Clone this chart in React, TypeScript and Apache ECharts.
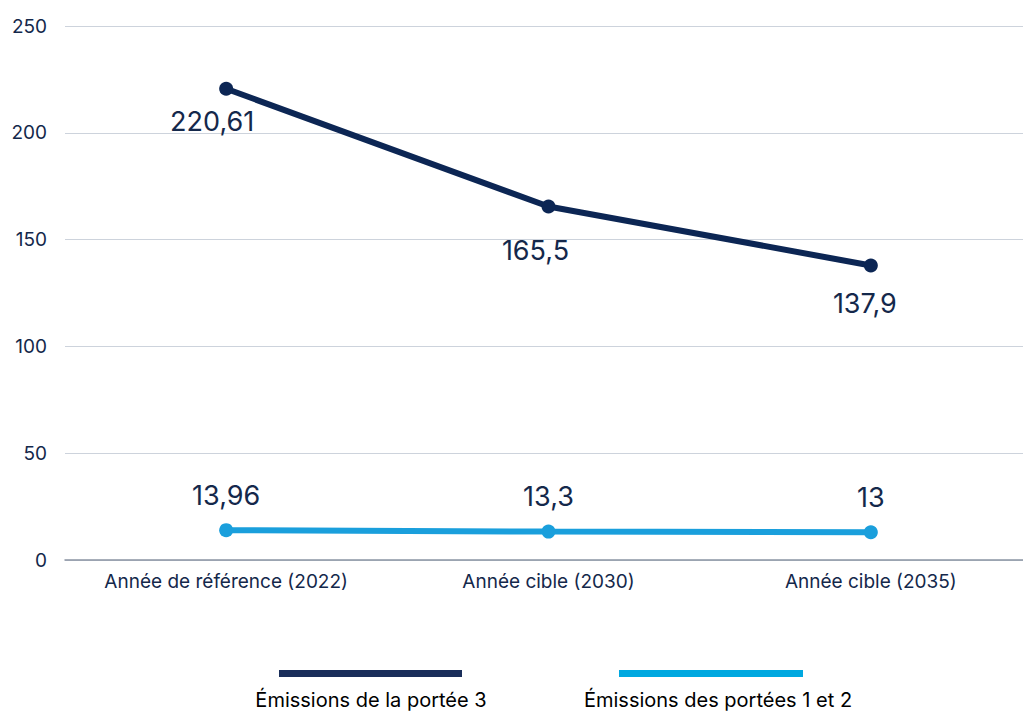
import React, { useEffect, useRef } from "react";
import * as echarts from "echarts";

const categories = ["Année de référence (2022)", "Année cible (2030)", "Année cible (2035)"];
const scope3 = [220.61, 165.5, 137.9];
const scope12 = [13.96, 13.3, 13];
const seriesNames = ["Émissions de la portée 3", "Émissions des portées 1 et 2"];
const yTicks = [0, 50, 100, 150, 200, 250];
// label offsets as placed in the reference [dx, dy]
const scope3LabelOffsets = [[-14, 33], [-13, 44], [-6, 38]];

const DARK = "#0c2654";
const LIGHT = "#1a9fdc";
const LEGEND_DARK = "#1a2e5a";
const LEGEND_LIGHT = "#00a8e0";
const TEXT = "#14284b";
const FONT = "Inter, 'Noto Sans', sans-serif";

const fmt = (v: number) => String(v).replace(".", ",");

export default function App() {
  const ref = useRef<HTMLDivElement>(null);
  useEffect(() => {
    if (!ref.current) return;
    const chart = echarts.init(ref.current, null, { renderer: "svg" });
    chart.setOption({
      animation: false,
      backgroundColor: "#ffffff",
      textStyle: { fontFamily: FONT },
      grid: { left: 65, right: 0, top: 26, bottom: 151, containLabel: false },
      xAxis: {
        type: "category",
        data: categories,
        boundaryGap: true,
        axisLine: { show: true, lineStyle: { color: "#8a94a3", width: 1.5 } },
        axisTick: { show: false },
        axisLabel: { color: TEXT, fontSize: 19, fontFamily: FONT, margin: 12 },
      },
      yAxis: {
        type: "value",
        min: yTicks[0],
        max: yTicks[yTicks.length - 1],
        interval: 50,
        axisLine: { show: false },
        axisTick: { show: false },
        axisLabel: { color: TEXT, fontSize: 19, fontFamily: FONT, margin: 18 },
        splitLine: { lineStyle: { color: "#cdd3dc", width: 1.2 } },
      },
      series: [
        {
          name: seriesNames[0],
          type: "line",
          data: scope3.map((v, i) => ({
            value: v,
            label: { offset: scope3LabelOffsets[i] },
          })),
          symbol: "circle",
          symbolSize: 14,
          lineStyle: { color: DARK, width: 6 },
          itemStyle: { color: DARK },
          label: {
            show: true,
            position: "inside",
            align: "center",
            verticalAlign: "middle",
            color: TEXT,
            fontSize: 27,
            fontFamily: FONT,
            formatter: (p: any) => fmt(p.value),
          },
        },
        {
          name: seriesNames[1],
          type: "line",
          data: scope12,
          symbol: "circle",
          symbolSize: 14,
          lineStyle: { color: LIGHT, width: 6 },
          itemStyle: { color: LIGHT },
          label: {
            show: true,
            position: "inside",
            align: "center",
            verticalAlign: "middle",
            offset: [0, -35],
            color: TEXT,
            fontSize: 27,
            fontFamily: FONT,
            formatter: (p: any) => fmt(p.value),
          },
        },
      ],
      graphic: [
        { type: "rect", left: 279, top: 670, shape: { width: 183, height: 7 }, style: { fill: LEGEND_DARK } },
        { type: "rect", left: 619, top: 670, shape: { width: 184, height: 7 }, style: { fill: LEGEND_LIGHT } },
        {
          type: "text",
          x: 371,
          y: 700,
          style: { text: seriesNames[0], fill: "#000000", font: `20px ${FONT}`, textAlign: "center", textVerticalAlign: "middle" },
        },
        {
          type: "text",
          x: 718,
          y: 700,
          style: { text: seriesNames[1], fill: "#000000", font: `20px ${FONT}`, textAlign: "center", textVerticalAlign: "middle" },
        },
      ],
    });
    return () => chart.dispose();
  }, []);
  return (
    <div
      ref={ref}
      style={{ position: "fixed", left: 0, top: 0, width: 1032, height: 711 }}
    />
  );
}
